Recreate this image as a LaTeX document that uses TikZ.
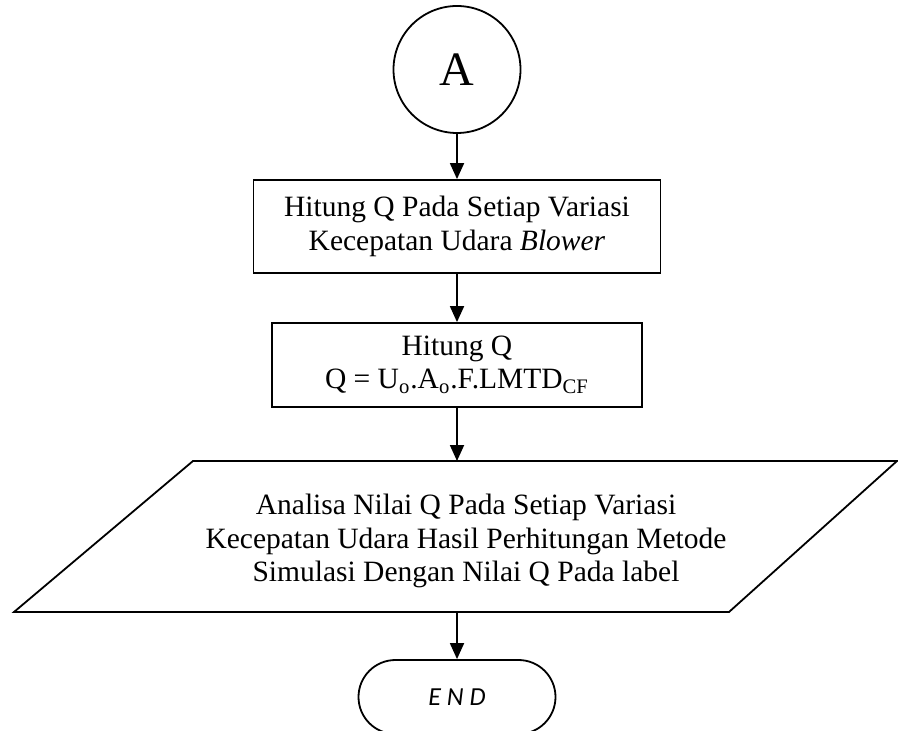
\documentclass[tikz,border=0pt]{standalone}
\usepackage{fontspec}
\setmainfont{Liberation Serif}
\newfontfamily\carlito{Carlito}
\usetikzlibrary{arrows.meta}

\tikzset{
  flowline/.style={line width=0.9pt,-{Triangle[width=7pt,length=8pt]}},
  shapeline/.style={line width=0.9pt,line join=miter},
  procbox/.style={draw,line width=0.9pt,align=center,inner sep=0pt,font=\fontsize{14.75}{16.6}\selectfont},
  iotext/.style={align=center,inner sep=0pt,font=\fontsize{14.75}{16.6}\selectfont},
  connector/.style={circle,draw,line width=0.9pt,inner sep=0pt,minimum size=63.5pt,font=\fontsize{24}{28}\selectfont},
  terminal/.style={draw,line width=0.9pt,rounded corners=18.5pt,minimum width=98.5pt,minimum height=37pt,
                   font=\carlito\itshape\fontsize{13}{15}\selectfont}
}

\begin{document}
\begin{tikzpicture}[x=0.5pt,y=-0.5pt]
  \useasboundingbox (0,0) rectangle (898,731);
  \node[connector] (circA) at (457,69.5) {A};
  \node[procbox,minimum width=203.5pt,minimum height=46.5pt] (hitungvar) at (457,226.5)
    {Hitung Q Pada Setiap Variasi\\Kecepatan Udara \textit{Blower}};
  \node[procbox,minimum width=185pt,minimum height=42pt] (hitungq) at (457,365)
    {Hitung Q\\Q = U\textsubscript{o}.A\textsubscript{o}.F.LMTD\textsubscript{CF}};

  % data (parallelogram)
  \coordinate (ioTL) at (193,461);
  \coordinate (ioTR) at (897,461);
  \coordinate (ioBR) at (729,612);
  \coordinate (ioBL) at (14,612);
  \draw[shapeline] (ioTL) -- (ioTR) -- (ioBR) -- (ioBL) -- cycle;
  \node[iotext] (analisa) at (466,541)
    {Analisa Nilai Q Pada Setiap Variasi\\Kecepatan Udara Hasil Perhitungan Metode\\Simulasi Dengan Nilai Q Pada label};

  \node[terminal] (selesai) at (457,697) {E N D};

  \draw[flowline] (circA) -- (hitungvar);
  \draw[flowline] (hitungvar) -- (hitungq);
  \draw[flowline] (hitungq) -- (hitungq |- ioTL);
  \draw[flowline] (hitungq |- ioBL) -- (selesai);
\end{tikzpicture}
\end{document}
